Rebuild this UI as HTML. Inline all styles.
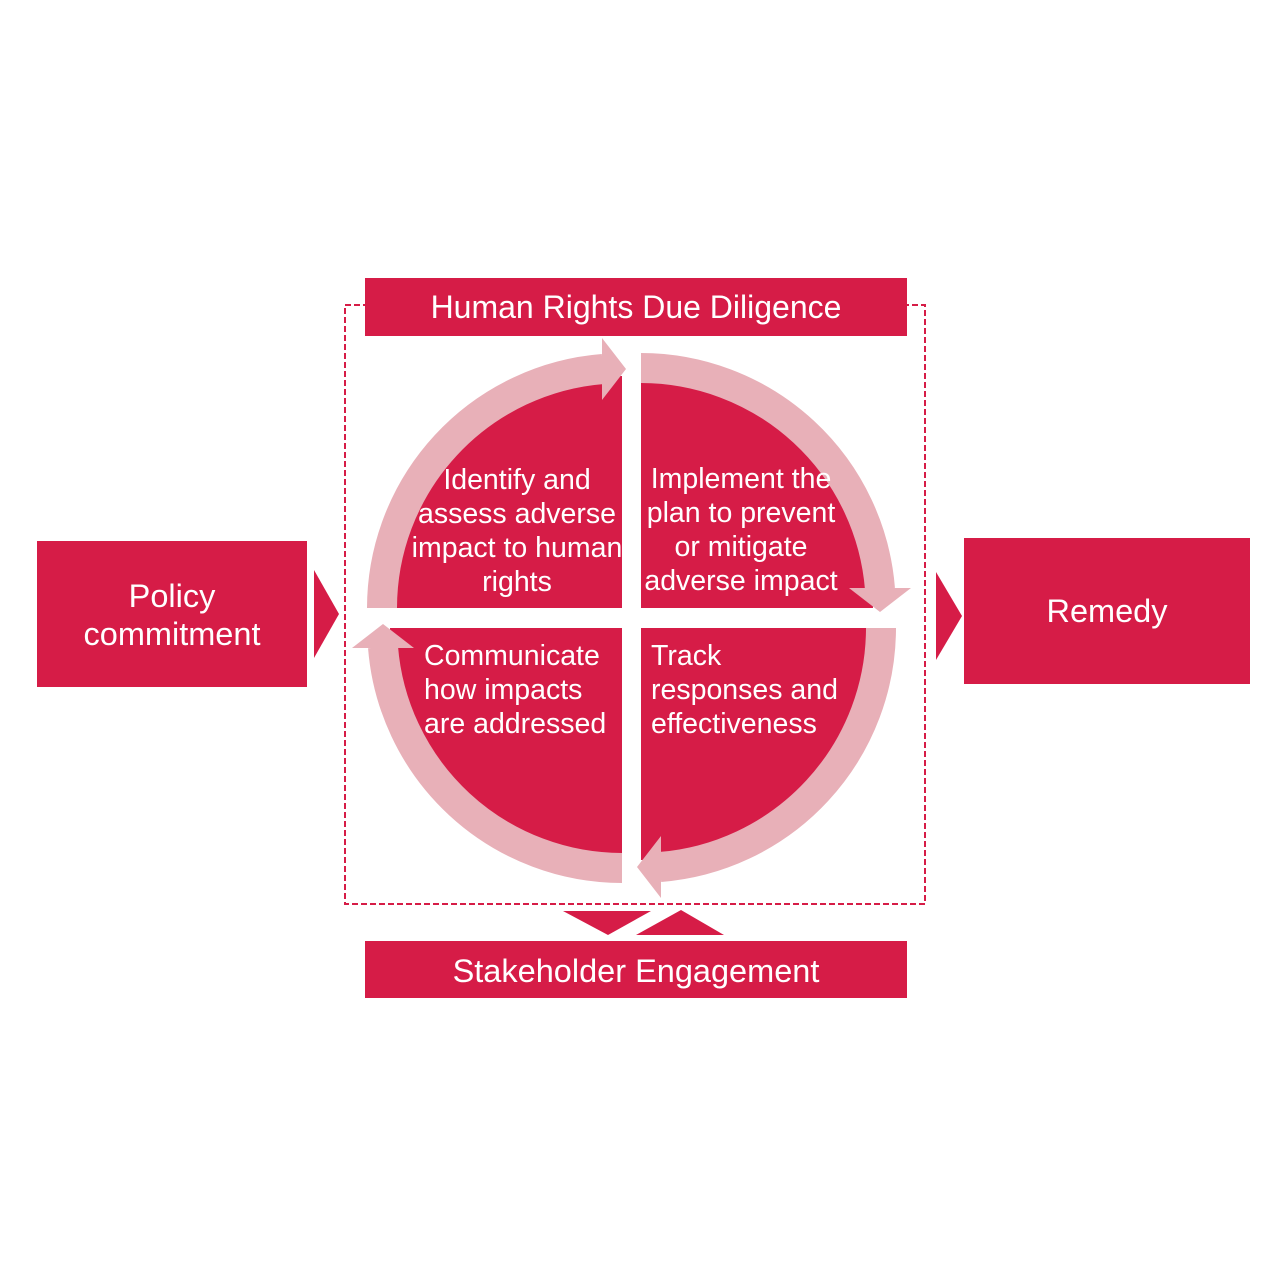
<!DOCTYPE html>
<html><head><meta charset="utf-8"><style>
html,body{margin:0;padding:0;background:#fff;}
svg{display:block}
text{font-family:"Liberation Sans",Arial,sans-serif;fill:#fff;}
</style></head><body>
<svg width="1280" height="1280" viewBox="0 0 1280 1280" xmlns="http://www.w3.org/2000/svg">
<rect width="1280" height="1280" fill="#fff"/>
<rect x="345" y="305" width="580" height="599" fill="none" stroke="#d61c47" stroke-width="2" stroke-dasharray="6,3"/>
<rect x="365" y="278" width="542" height="58" fill="#d61c47"/>
<text x="636" y="318" font-size="32" text-anchor="middle">Human Rights Due Diligence</text>
<g fill="#d61c47">
<path d="M622,608 L390,608 A232,232 0 0 1 622,376 Z"/>
<path d="M641,608 L641,376 A232,232 0 0 1 873,608 Z"/>
<path d="M641,628 L873,628 A232,232 0 0 1 641,860 Z"/>
<path d="M622,628 L622,860 A232,232 0 0 1 390,628 Z"/>
</g>
<g fill="none" stroke="#e8b0b8" stroke-width="30">
<path d="M382,608 A240,240 0 0 1 603,369"/>
<path d="M641,368 A240,240 0 0 1 880,589"/>
<path d="M881,628 A240,240 0 0 1 660,867"/>
<path d="M622,868 A240,240 0 0 1 383,647"/>
</g>
<g fill="#e8b0b8">
<polygon points="602,338 602,400 626,369"/>
<polygon points="849,588 911,588 880,612"/>
<polygon points="661,836 661,898 637,867"/>
<polygon points="352,648 414,648 383,624"/>
</g>
<g font-size="28.5" text-anchor="middle">
<text x="517" y="489">Identify and</text>
<text x="517" y="523">assess adverse</text>
<text x="517" y="557">impact to human</text>
<text x="517" y="591">rights</text>
<text x="741" y="488">Implement the</text>
<text x="741" y="522">plan to prevent</text>
<text x="741" y="556">or mitigate</text>
<text x="741" y="590">adverse impact</text>
</g>
<g font-size="28.5">
<text x="424" y="665">Communicate</text>
<text x="424" y="699">how impacts</text>
<text x="424" y="733">are addressed</text>
<text x="651" y="665">Track</text>
<text x="651" y="699">responses and</text>
<text x="651" y="733">effectiveness</text>
</g>
<rect x="37" y="541" width="270" height="146" fill="#d61c47"/>
<text x="172" y="607" font-size="32.5" text-anchor="middle">Policy</text>
<text x="172" y="645" font-size="32.5" text-anchor="middle">commitment</text>
<polygon points="314,570 314,658 339,614" fill="#d61c47"/>
<polygon points="936,572 936,660 962,616" fill="#d61c47"/>
<rect x="964" y="538" width="286" height="146" fill="#d61c47"/>
<text x="1107" y="622" font-size="32.5" text-anchor="middle">Remedy</text>
<polygon points="563,911 651,911 608,935" fill="#d61c47"/>
<polygon points="636,935 724,935 681,910" fill="#d61c47"/>
<rect x="365" y="941" width="542" height="57" fill="#d61c47"/>
<text x="636" y="982" font-size="32.5" text-anchor="middle">Stakeholder Engagement</text>
</svg>
</body></html>
